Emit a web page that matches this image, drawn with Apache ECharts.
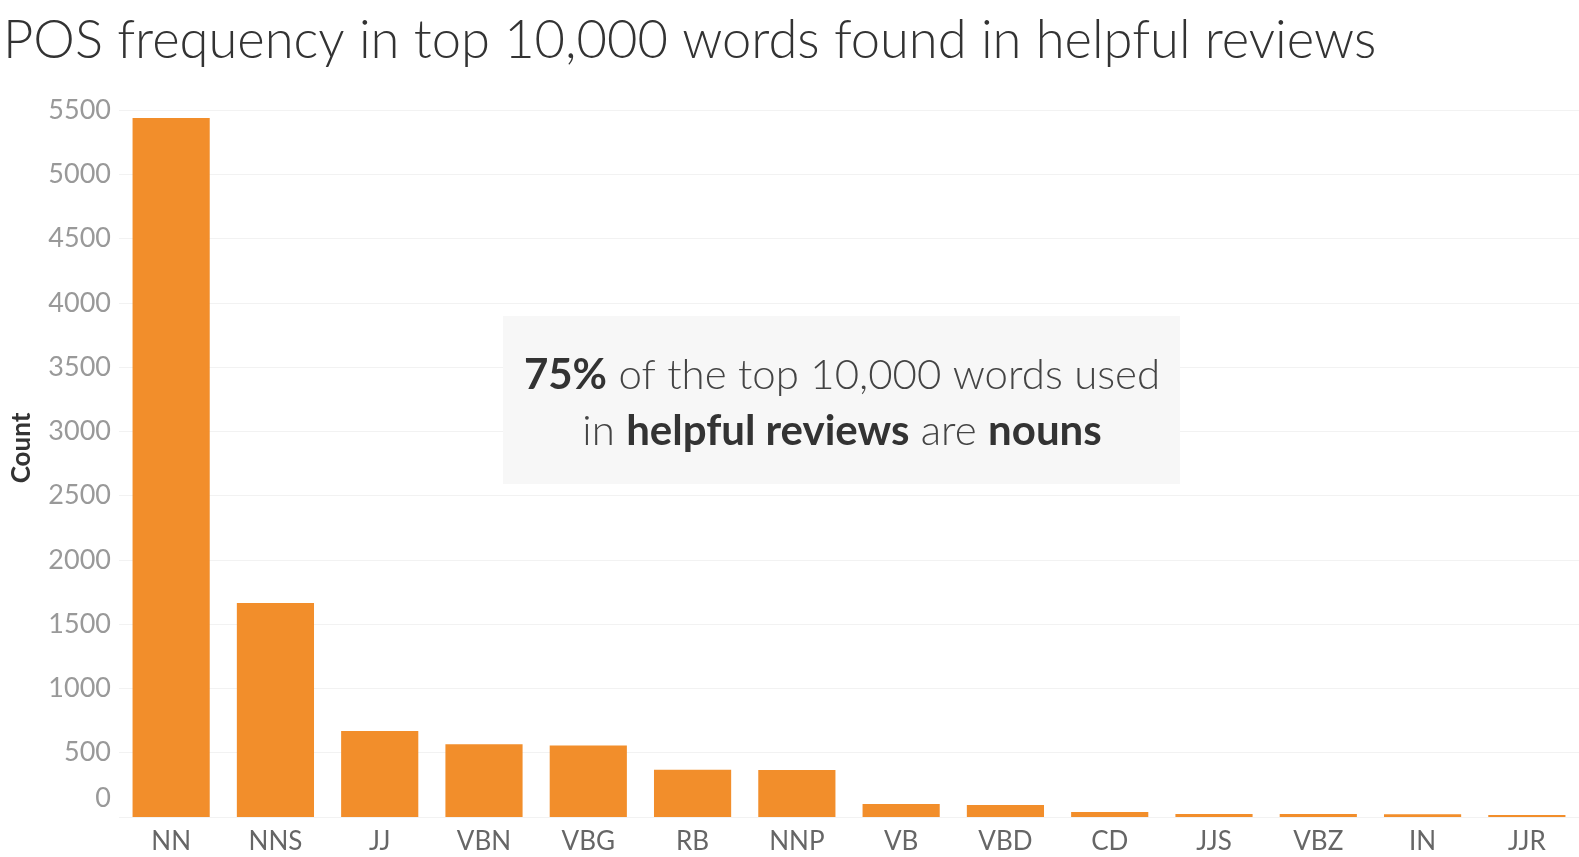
<!DOCTYPE html>
<html><head><meta charset="utf-8">
<script src="https://cdn.jsdelivr.net/npm/echarts@6/dist/echarts.min.js"></script>
<style>html,body{margin:0;padding:0;background:#fff}#c{width:1579px;height:857px}</style>
</head><body><div id="c"></div>
<script>
const categories = ['NN','NNS','JJ','VBN','VBG','RB','NNP','VB','VBD','CD','JJS','VBZ','IN','JJR'];
const counts = [5437, 1664, 669, 565, 557, 368, 366, 101, 93, 38, 24, 23, 22, 16];
const yTicks = [0, 500, 1000, 1500, 2000, 2500, 3000, 3500, 4000, 4500, 5000, 5500];
const titleText = 'POS frequency in top 10,000 words found in helpful reviews';
const yAxisTitle = 'Count';

const chart = echarts.init(document.getElementById('c'));
chart.setOption({
  animation: false,
  backgroundColor: '#fff',
  title: {
    text: titleText, left: -2, top: 10,
    textStyle: { fontFamily: 'Lato', fontWeight: 300, fontSize: 52.5, color: '#333' }
  },
  grid: { left: 119, right: 0, top: 110, bottom: 40 },
  xAxis: {
    type: 'category', data: categories,
    axisLine: { show: false }, axisTick: { show: false },
    axisLabel: { color: '#666', fontFamily: 'Lato', fontSize: 26, margin: 12 }
  },
  yAxis: {
    type: 'value', min: yTicks[0], max: yTicks[yTicks.length - 1], interval: 500,
    axisLine: { show: false }, axisTick: { show: false },
    splitLine: { lineStyle: { color: '#f2f2f2', width: 1 } },
    axisLabel: {
      color: '#999', fontFamily: 'Lato', fontSize: 27, margin: 8,
      formatter: v => v === 0 ? '{z|0}' : String(v),
      rich: { z: { color: '#999', fontFamily: 'Lato', fontSize: 27, padding: [0, 0, 38, 0] } }
    }
  },
  series: [{
    type: 'bar', data: counts, barWidth: '74%',
    itemStyle: { color: '#f28e2b' }
  }],
  graphic: [
    { type: 'text', x: 22, y: 448, rotation: Math.PI / 2, z: 11, style: {
        text: yAxisTitle, align: 'center', verticalAlign: 'middle',
        fontFamily: 'Lato', fontWeight: 'bold', fontSize: 26, fill: '#333'
    } },
    { type: 'rect', shape: { x: 503, y: 316, width: 677, height: 168 }, style: { fill: '#f7f7f7' }, z: 10 },
    { type: 'text', x: 842, y: 403, z: 11, style: {
        text: '{b|75%}{r| of the top 10,000 words used}\n{r|in }{b|helpful reviews}{r| are }{b|nouns}',
        align: 'center', verticalAlign: 'middle',
        rich: {
          b: { fontFamily: 'Lato', fontWeight: 'bold', fontSize: 42, fill: '#333', lineHeight: 56 },
          r: { fontFamily: 'Lato', fontWeight: 300, fontSize: 42, fill: '#444', lineHeight: 56 }
        }
    } }
  ]
});
</script></body></html>
